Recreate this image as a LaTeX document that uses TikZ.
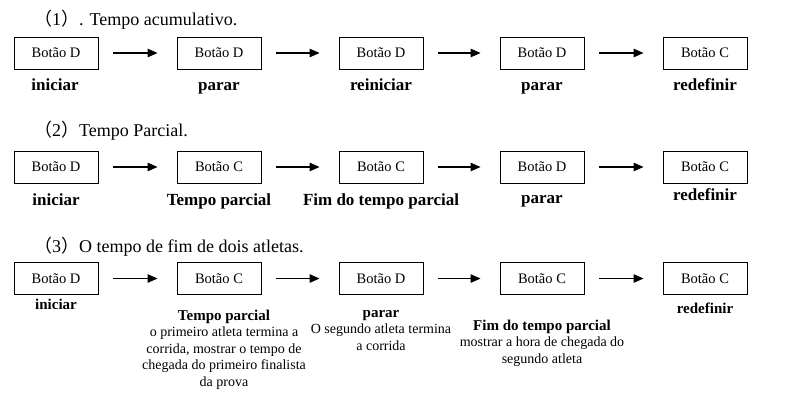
\documentclass[tikz,border=0pt]{standalone}
\usepackage{fontspec}
\setmainfont{Liberation Serif}
\newfontfamily\cjk{Noto Sans CJK SC}
\usetikzlibrary{arrows.meta, positioning}

\begin{document}
\begin{tikzpicture}[
    x=1pt, y=-1pt,
    >={Triangle[length=10pt, width=8.5pt]},
    box/.style={rectangle, draw, line width=0.9pt, minimum width=84pt, minimum height=32pt, inner sep=0pt, font=\fontsize{14.5}{16}\selectfont},
    arrow/.style={->, line width=1.2pt, shorten <=15pt, shorten >=19pt},
    title/.style={anchor=base west, inner sep=0pt, font=\fontsize{18}{20}\selectfont},
    label/.style={anchor=base, inner sep=0pt, font=\fontsize{17}{19}\selectfont\bfseries},
    small/.style={anchor=base, inner sep=0pt, align=center, font=\fontsize{14}{16.5}\selectfont}
]
\useasboundingbox (0,0) rectangle (805,393);

% (1) Tempo acumulativo
\node[title] (t1) at (34,26) {{\cjk （}1{\cjk ）}. Tempo acumulativo.};

\node[box] (a1) at (56,53) {Botão D};
\node[box] (a2) at (219,53) {Botão D};
\node[box] (a3) at (381,53) {Botão D};
\node[box] (a4) at (542,53) {Botão D};
\node[box] (a5) at (705,53) {Botão C};

\draw[arrow] (a1) -- (a2);
\draw[arrow] (a2) -- (a3);
\draw[arrow] (a3) -- (a4);
\draw[arrow] (a4) -- (a5);

\node[label] (la1) at (55,91) {iniciar};
\node[label] (la2) at (219,91) {parar};
\node[label] (la3) at (381,91) {reiniciar};
\node[label] (la4) at (542,91) {parar};
\node[label] (la5) at (705,91) {redefinir};

% (2) Tempo Parcial
\node[title] (t2) at (34,136) {{\cjk （}2{\cjk ）}Tempo Parcial.};

\node[box] (b1) at (56,167) {Botão D};
\node[box] (b2) at (219,167) {Botão C};
\node[box] (b3) at (381,167) {Botão C};
\node[box] (b4) at (542,167) {Botão D};
\node[box] (b5) at (705,167) {Botão C};

\draw[arrow] (b1) -- (b2);
\draw[arrow] (b2) -- (b3);
\draw[arrow] (b3) -- (b4);
\draw[arrow] (b4) -- (b5);

\node[label] (lb1) at (56,205) {iniciar};
\node[label] (lb2) at (219,205) {Tempo parcial};
\node[label] (lb3) at (381,205) {Fim do tempo parcial};
\node[label] (lb4) at (542,203) {parar};
\node[label] (lb5) at (705,200) {redefinir};

% (3) O tempo de fim de dois atletas
\node[title] (t3) at (34,252) {{\cjk （}3{\cjk ）}O tempo de fim de dois atletas.};

\node[box] (c1) at (56,278.5) {Botão D};
\node[box] (c2) at (219,278.5) {Botão C};
\node[box] (c3) at (381,278.5) {Botão D};
\node[box] (c4) at (542,278.5) {Botão C};
\node[box] (c5) at (705,278.5) {Botão C};

\draw[arrow] (c1) -- (c2);
\draw[arrow] (c2) -- (c3);
\draw[arrow] (c3) -- (c4);
\draw[arrow] (c4) -- (c5);

\node[small] (lc1) at (56,309) {\textbf{\fontsize{15}{16.5}\selectfont iniciar}};
\node[small] (lc2) at (224,386) {\textbf{\fontsize{15}{16.5}\selectfont Tempo parcial}\\o primeiro atleta termina a\\corrida, mostrar o tempo de\\chegada do primeiro finalista\\da prova};
\node[small] (lc3) at (381,350) {\textbf{\fontsize{15}{16.5}\selectfont parar}\\O segundo atleta termina\\a corrida};
\node[small] (lc4) at (542,363) {\textbf{\fontsize{15}{16.5}\selectfont Fim do tempo parcial}\\mostrar a hora de chegada do\\segundo atleta};
\node[small] (lc5) at (705,313) {\textbf{\fontsize{15}{16.5}\selectfont redefinir}};

\end{tikzpicture}
\end{document}
